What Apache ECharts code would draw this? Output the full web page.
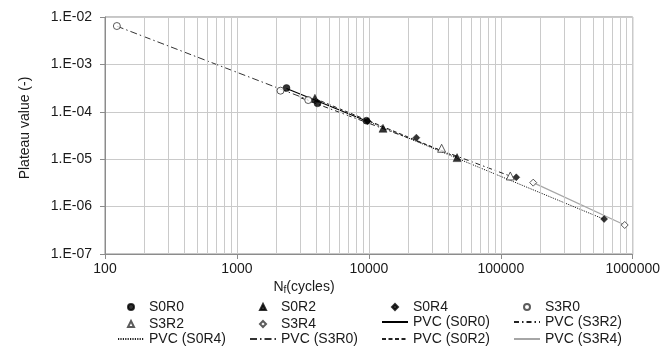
<!DOCTYPE html>
<html>
<head>
<meta charset="utf-8">
<script src="https://cdn.jsdelivr.net/npm/echarts@6/dist/echarts.min.js"></script>
<style>html,body{margin:0;padding:0;background:#fff}#c{width:663px;height:354px}</style>
</head>
<body>
<div id="c"></div>
<script>
// ---- data ----
const s0r0X = [2375, 4080, 9590];
const s0r0Y = [3.18e-4, 1.51e-4, 6.49e-5];
const s0r2X = [3900, 12800, 46600];
const s0r2Y = [1.93e-4, 4.49e-5, 1.08e-5];
const s0r4X = [9800, 22900, 131000, 607000];
const s0r4Y = [6.3e-5, 2.85e-5, 4.15e-6, 5.47e-7];
const s3r0X = [123, 2140, 3470];
const s3r0Y = [6.45e-3, 2.79e-4, 1.77e-4];
const s3r2X = [35600, 118000];
const s3r2Y = [1.70e-5, 4.43e-6];
const s3r4X = [176000, 869000];
const s3r4Y = [3.20e-6, 4.09e-7];

const fitS0R0X = [2375, 9590];   const fitS0R0Y = [3.1e-4, 6.4e-5];
const fitS0R2X = [3900, 46600];  const fitS0R2Y = [1.9e-4, 1.1e-5];
const fitS0R4X = [9590, 607000]; const fitS0R4Y = [6.5e-5, 5.4e-7];
const fitS3R0X = [123, 3470];    const fitS3R0Y = [6.4e-3, 1.8e-4];
const fitS3R2X = [3000, 118000]; const fitS3R2Y = [2.0e-4, 4.4e-6];
const fitS3R4X = [176000, 869000]; const fitS3R4Y = [3.2e-6, 4.1e-7];

const xTicks = [100, 1000, 10000, 100000, 1000000];
const yTicks = [1e-7, 1e-6, 1e-5, 1e-4, 1e-3, 1e-2];
const minorX = [200,300,400,500,600,700,800,900,
                2000,3000,4000,5000,6000,7000,8000,9000,
                20000,30000,40000,50000,60000,70000,80000,90000,
                200000,300000,400000,500000,600000,700000,800000,900000];

const xTitle = 'N';
const xTitleSub = 'f';
const xTitleRest = '(cycles)';
const yTitle = 'Plateau value (-)';

// ---- build ----
const zip = (a, b) => a.map((v, i) => [v, b[i]]);
const FONT = 'Liberation Sans, Arial, sans-serif';
const TXT = '#1a1a1a';
const GRID = '#cacaca';

function scatter(name, xs, ys, symbol, filled) {
  return {
    name, type: 'scatter', data: zip(xs, ys), symbol, symbolSize: symbol === 'triangle' ? 8 : 7,
    itemStyle: filled ? {color: '#000', borderColor: '#000', borderWidth: 0.5}
                      : {color: '#fff', borderColor: '#333', borderWidth: 1},
    z: 5
  };
}
function fit(name, xs, ys, color, type, width) {
  return {
    name, type: 'line', data: zip(xs, ys), symbol: 'none', showSymbol: false,
    lineStyle: {color, type, width: width || 1.2}, itemStyle: {color, opacity: 0},
    z: 3, silent: true, animation: false
  };
}

const series = [
  scatter('S0R0', s0r0X, s0r0Y, 'circle', true),
  scatter('S0R2', s0r2X, s0r2Y, 'triangle', true),
  scatter('S0R4', s0r4X, s0r4Y, 'diamond', true),
  scatter('S3R0', s3r0X, s3r0Y, 'circle', false),
  scatter('S3R2', s3r2X, s3r2Y, 'triangle', false),
  scatter('S3R4', s3r4X, s3r4Y, 'diamond', false),
  fit('PVC (S0R0)', fitS0R0X, fitS0R0Y, '#000', 'solid', 1.3),
  fit('PVC (S3R2)', fitS3R2X, fitS3R2Y, '#222', [5, 3, 1.5, 3], 1),
  fit('PVC (S0R4)', fitS0R4X, fitS0R4Y, '#222', [1.2, 1.2], 1),
  fit('PVC (S3R0)', fitS3R0X, fitS3R0Y, '#333', [7, 3, 1.5, 3], 1),
  fit('PVC (S0R2)', fitS0R2X, fitS0R2Y, '#222', [4, 2.5], 1),
  fit('PVC (S3R4)', fitS3R4X, fitS3R4Y, '#a6a6a6', 'solid', 1.2)
];

// minor vertical grid lines through the x scale
series.push({
  name: '_minor', type: 'line', data: [], silent: true, z: 1,
  markLine: {
    silent: true, symbol: ['none', 'none'], label: {show: false}, animation: false,
    lineStyle: {color: GRID, type: 'solid', width: 1},
    data: minorX.map(v => ({xAxis: v}))
  }
});

// legend layout: 4 columns x 3 rows
const legendRows = [
  ['S0R0', 'S0R2', 'S0R4', 'S3R0'],
  ['S3R2', 'S3R4', 'PVC (S0R0)', 'PVC (S3R2)'],
  ['PVC (S0R4)', 'PVC (S3R0)', 'PVC (S0R2)', 'PVC (S3R4)']
];
const colLeft = [117, 249, 381, 513];
const rowTop = [298, 315, 332];
const SYM_W = 26;   // symbol area width
const MK = 6;       // legend marker size
const legends = [];
legendRows.forEach((row, r) => row.forEach((nm, c) => {
  const isLine = nm.indexOf('PVC') === 0;
  const off = isLine ? 0 : (SYM_W - MK) / 2;
  legends.push({
    data: [nm], left: colLeft[c] + off, top: rowTop[r] + (isLine ? 0 : 2), padding: 0,
    itemWidth: isLine ? SYM_W : MK, itemHeight: isLine ? 10 : MK, itemGap: 0, selectedMode: false,
    textStyle: {fontFamily: FONT, fontSize: 14, color: TXT, padding: [0, 0, 0, isLine ? 0 : off]}
  });
}));

const fmtY = v => {
  const e = Math.round(Math.log10(v));
  return '1.E' + (e < 0 ? '-' : '+') + String(Math.abs(e)).padStart(2, '0');
};

const option = {
  animation: false,
  backgroundColor: '#fff',
  grid: {left: 105, right: 30, top: 17, bottom: 100, show: true, borderColor: '#8c8c8c', borderWidth: 1, backgroundColor: 'transparent'},
  xAxis: {
    type: 'log', logBase: 10, min: xTicks[0], max: xTicks[xTicks.length - 1],
    axisLine: {show: true, onZero: false, lineStyle: {color: '#8c8c8c', width: 1}},
    axisTick: {show: true, inside: false, length: 5, lineStyle: {color: '#8c8c8c'}},
    splitLine: {show: true, lineStyle: {color: GRID, width: 1}},
    axisLabel: {fontFamily: FONT, fontSize: 14, color: TXT, margin: 8, formatter: v => String(Math.round(v))}
  },
  yAxis: {
    type: 'log', logBase: 10, min: yTicks[0], max: yTicks[yTicks.length - 1],
    axisLine: {show: true, onZero: false, lineStyle: {color: '#8c8c8c', width: 1}},
    axisTick: {show: true, inside: false, length: 5, lineStyle: {color: '#8c8c8c'}},
    splitLine: {show: true, lineStyle: {color: GRID, width: 1}},
    axisLabel: {fontFamily: FONT, fontSize: 14, color: TXT, margin: 13, formatter: fmtY}
  },
  legend: legends,
  graphic: [
    {type: 'text', x: 25, y: 128, rotation: Math.PI / 2,
     style: {text: yTitle, font: '14px ' + FONT, fill: TXT, align: 'center', verticalAlign: 'middle'}},
    {type: 'text', x: 304, y: 287,
     style: {rich: {a: {fontFamily: FONT, fontSize: 14, fill: TXT}, b: {fontFamily: FONT, fontSize: 10, fill: TXT, padding: [7, 0, 0, 0]}},
             text: '{a|' + xTitle + '}{b|' + xTitleSub + '}{a|' + xTitleRest + '}',
             align: 'center', verticalAlign: 'middle'}}
  ],
  series
};

const chart = echarts.init(document.getElementById('c'), null, {renderer: 'canvas'});
chart.setOption(option);
</script>
</body>
</html>
